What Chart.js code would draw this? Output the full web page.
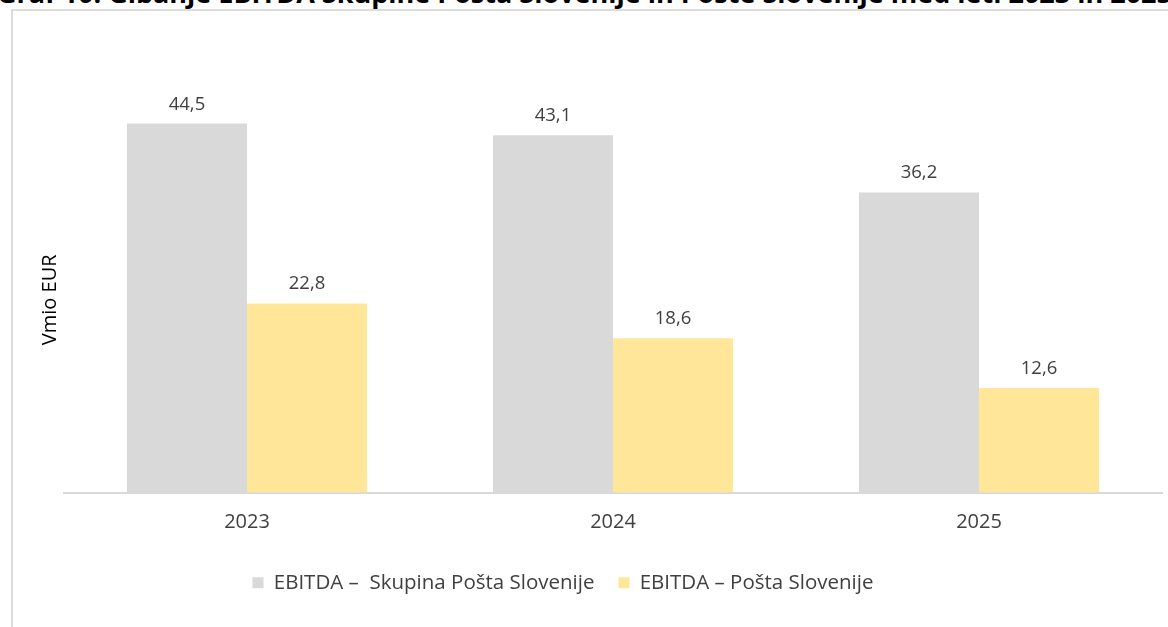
<!DOCTYPE html>
<html lang="sl">
<head>
    <meta charset="UTF-8">
    <title>Gibanje EBITDA</title>
    <style>
        body {
            margin: 0;
            background: #ffffff;
            font-family: "Open Sans", Arial, sans-serif;
            overflow: hidden;
        }

        .caption {
            position: absolute;
            left: -3px;
            top: -21px;
            line-height: 27px;
            white-space: nowrap;
            font-weight: bold;
            font-size: 27px;
            color: #000000;
        }

        .frame {
            position: absolute;
            left: 11px;
            top: 9px;
            width: 1200px;
            height: 700px;
            border-left: 2px solid #dcdcdc;
            border-top: 2px solid #dcdcdc;
        }

        #wrap {
            position: absolute;
            left: 0;
            top: 0;
            width: 1168px;
            height: 627px;
        }
    </style>
</head>
<body>
    <div class="caption">Graf 10: Gibanje EBITDA Skupine Pošta Slovenije in Pošte Slovenije med leti 2023 in 2025</div>
    <div class="frame"></div>
    <div id="wrap"><canvas id="ebitdaChart" width="1168" height="627"></canvas></div>

    <script src="https://cdn.jsdelivr.net/npm/chart.js"></script>
    <script>
        // data (mio EUR)
        const years = ['2023', '2024', '2025'];
        const skupinaValues = [44.5, 43.1, 36.2];
        const postaValues = [22.8, 18.6, 12.6];
        const seriesNames = ['EBITDA –  Skupina Pošta Slovenije', 'EBITDA – Pošta Slovenije'];
        const yAxisTitle = 'Vmio EUR';

        const textColor = '#404040';
        const fontFamily = '"Open Sans", Arial, sans-serif';

        // value labels above each bar, decimal comma
        const valueLabels = {
            id: 'valueLabels',
            afterDatasetsDraw(chart) {
                const ctx = chart.ctx;
                ctx.save();
                ctx.font = '18.5px ' + fontFamily;
                ctx.fillStyle = textColor;
                ctx.textAlign = 'center';
                ctx.textBaseline = 'bottom';
                chart.data.datasets.forEach(function(ds, i) {
                    chart.getDatasetMeta(i).data.forEach(function(bar, j) {
                        const txt = ds.data[j].toFixed(1).replace('.', ',');
                        ctx.fillText(txt, bar.x, bar.y - 10);
                    });
                });
                ctx.restore();
            }
        };

        // the legend in the original sits a bit left of centre and a bit higher
        const legendShift = {
            id: 'legendShift',
            afterLayout(chart) {
                const lg = chart.legend;
                if (!lg) return;
                lg.left -= 36;
                lg.right -= 36;
                lg.top -= 4;
                lg.bottom -= 4;
            }
        };

        const ctx = document.getElementById('ebitdaChart').getContext('2d');
        new Chart(ctx, {
            type: 'bar',
            data: {
                labels: years,
                datasets: [
                    {
                        label: seriesNames[0],
                        data: skupinaValues,
                        backgroundColor: '#d9d9d9',
                        borderWidth: 0
                    },
                    {
                        label: seriesNames[1],
                        data: postaValues,
                        backgroundColor: '#ffe699',
                        borderWidth: 0
                    }
                ]
            },
            options: {
                responsive: false,
                animation: false,
                layout: {
                    padding: { top: 107, left: 36, right: 6, bottom: 20 }
                },
                datasets: {
                    bar: {
                        categoryPercentage: 0.656,
                        barPercentage: 1
                    }
                },
                plugins: {
                    legend: {
                        position: 'bottom',
                        labels: {
                            boxWidth: 11,
                            boxHeight: 11,
                            padding: 24,
                            color: textColor,
                            font: { size: 20.5, family: fontFamily }
                        }
                    },
                    tooltip: { enabled: false }
                },
                scales: {
                    x: {
                        grid: { display: false, drawTicks: false },
                        border: { color: '#d9d9d9', width: 2 },
                        ticks: {
                            color: textColor,
                            padding: 18,
                            font: { size: 20, family: fontFamily }
                        }
                    },
                    y: {
                        min: 0,
                        max: 46.5,
                        grid: { display: false, drawTicks: false },
                        border: { display: false },
                        ticks: { display: false },
                        title: {
                            display: true,
                            text: yAxisTitle,
                            color: '#000000',
                            padding: { top: 2, bottom: 2 },
                            font: { size: 20, family: fontFamily }
                        }
                    }
                }
            },
            plugins: [valueLabels, legendShift]
        });
    </script>
</body>
</html>
